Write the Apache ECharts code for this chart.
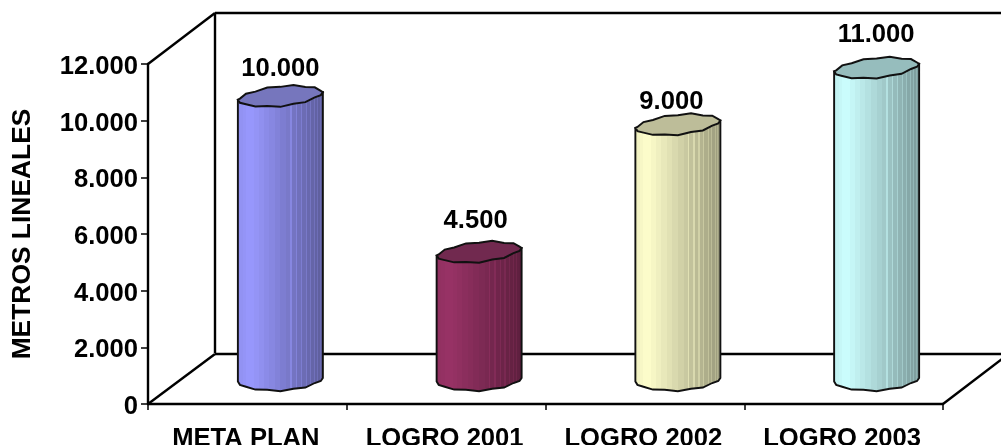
<!DOCTYPE html>
<html><head><meta charset="utf-8">
<style>html,body{margin:0;padding:0;background:#fff}#c{width:1001px;height:445px}</style>
<script src="https://cdn.jsdelivr.net/npm/echarts@6/dist/echarts.min.js"></script>
</head><body><div id="c"></div>
<script>
const categories = ['META PLAN', 'LOGRO 2001', 'LOGRO 2002', 'LOGRO 2003'];
const values = [10000, 4500, 9000, 11000];
const yTicks = { min: 0, max: 12000, interval: 2000 };
const axisTitle = 'METROS LINEALES';

// style only
const lightColors = [[153,153,255],[153,51,102],[255,255,204],[204,255,255]];
const topColors = ['#7676bd', '#71294f', '#bdbd99', '#96bdbd'];
const labelNudge = [[0,-27],[-3.5,-31],[-6.5,-23],[-0.5,-33]];
const FONT = '"Liberation Sans", Arial, sans-serif';
const DX = 67, DY = -51;
const wobble = [0,.7,-.5,.8,-.5,.7,-.7,.5,0,.8,-.6,.7,-.8,.6,-.5,.7,-.6,.8,-.7,.5];

function fmt(v){ return String(v).replace(/\B(?=(\d{3})+$)/g,'.'); }

function ring(cx, cy, rx, ry, tilt, from, to, n){
  const pts=[];
  for(let i=0;i<=n;i++){
    const t=from+(to-from)*i/n;
    const idx=Math.round(((t%(2*Math.PI))+2*Math.PI)%(2*Math.PI)/(2*Math.PI)*wobble.length)%wobble.length;
    const s=Math.sin(t);
    pts.push([cx+rx*Math.cos(t), cy+ry*Math.sign(s)*Math.pow(Math.abs(s),1.35)-tilt*Math.cos(t)+wobble[idx]]);
  }
  return pts;
}
function bodyFill(rgb){
  const N=24, stops=[];
  const shade=(u,m)=>{
    const k = (u<.15 ? .93+.07*u/.15 : 1-.4*(u-.15)/.85)*m;
    return 'rgb('+rgb.map(c=>Math.min(255,Math.round(c*k))).join(',')+')';
  };
  for(let i=0;i<N;i++){
    const a=.5-.5*Math.cos(Math.PI*i/N), b=.5-.5*Math.cos(Math.PI*(i+1)/N), u=(a+b)/2;
    const c=shade(u,1);
    stops.push({offset:a,color:c});
    if(u>.55){
      const e=b-(b-a)*.25;
      stops.push({offset:e,color:c},{offset:e,color:shade(u,1.12)});
      stops.push({offset:b,color:shade(u,1.12)});
    } else stops.push({offset:b,color:c});
  }
  return {type:'linear',x:0,y:0,x2:1,y2:0,colorStops:stops};
}

function renderFrame(params, api){
  const band=api.size([1,0])[0];
  const x0=api.coord([0,0])[0]-band/2, x1=x0+band*categories.length;
  const y0=api.coord([0,yTicks.min])[1], y1=api.coord([0,yTicks.max])[1];
  const s={stroke:'#000',lineWidth:2.4,fill:null};
  const seg=(a,b,c,d)=>({type:'line',shape:{x1:a,y1:b,x2:c,y2:d},style:s,silent:true});
  return {type:'group',children:[
    seg(x0,y1,x0+DX,y1+DY),
    seg(x0,y0,x0+DX,y0+DY+1),
    seg(x0+DX,y1+DY,x0+DX,y0+DY),
    seg(x0+DX,y1+DY,1001,y1+DY),
    seg(x0+DX,y0+DY+1,1001,y0+DY+1),
    seg(x1,y0,x1+DX,y0+DY)
  ]};
}

function renderCyl(params, api){
  const i=api.value(0), v=api.value(1);
  const p=api.coord([i,v]), b=api.coord([i,0]);
  const cx=p[0]+33, rx=42.5, ry=10;
  const ty=p[1]-24.5, by=b[1]-24;
  const lowerB=ring(cx,by,rx,10.5,2,0,Math.PI,10);
  const topR=ring(cx,ty,rx,ry,4,0,2*Math.PI,20);
  const body=[[cx-rx,ty+4]].concat(lowerB.slice().reverse(),[[cx+rx,ty-4]]);
  const n=labelNudge[i];
  return {type:'group',children:[
    {type:'polygon',shape:{points:body},style:{fill:bodyFill(lightColors[i]),stroke:'#111',lineWidth:1.9}},
    {type:'polygon',shape:{points:topR},style:{fill:topColors[i],stroke:'#111',lineWidth:2}},
    {type:'text',style:{x:cx+n[0],y:ty+n[1],text:fmt(v),font:'bold 25.6px '+FONT,fill:'#000',align:'center',verticalAlign:'middle'}}
  ]};
}

const chart=echarts.init(document.getElementById('c'),null,{renderer:'canvas'});
chart.setOption({
  animation:false,
  backgroundColor:'#fff',
  grid:{left:148,right:58,top:64,bottom:41,outerBoundsMode:'none'},
  xAxis:{type:'category',data:categories,
    axisLine:{lineStyle:{color:'#000',width:2.4}},
    axisTick:{show:true,alignWithLabel:false,length:6,lineStyle:{color:'#000',width:1.5}},
    axisLabel:{color:'#000',fontFamily:FONT,fontWeight:'bold',fontSize:25.6,margin:26,interval:0,verticalAlign:'top',lineHeight:18,padding:[0,3,0,0]}},
  yAxis:{type:'value',min:yTicks.min,max:yTicks.max,interval:yTicks.interval,
    name:axisTitle,nameLocation:'middle',nameGap:112,nameRotate:90,
    nameTextStyle:{color:'#000',fontFamily:FONT,fontWeight:'bold',fontSize:26.4},
    axisLine:{show:true,lineStyle:{color:'#000',width:2.4}},
    axisTick:{show:true,length:7,lineStyle:{color:'#000',width:1.5}},
    axisLabel:{color:'#000',fontFamily:FONT,fontWeight:'bold',fontSize:25.6,margin:10,verticalAlign:'top',lineHeight:6,formatter:v=>fmt(v)},
    splitLine:{show:false}},
  series:[
    {type:'custom',z:1,silent:true,clip:false,renderItem:renderFrame,data:[[0,0]],encode:{x:0,y:1}},
    {type:'custom',z:2,silent:true,clip:false,renderItem:renderCyl,data:values.map((v,i)=>[i,v]),encode:{x:0,y:1}}
  ]
});
</script></body></html>
